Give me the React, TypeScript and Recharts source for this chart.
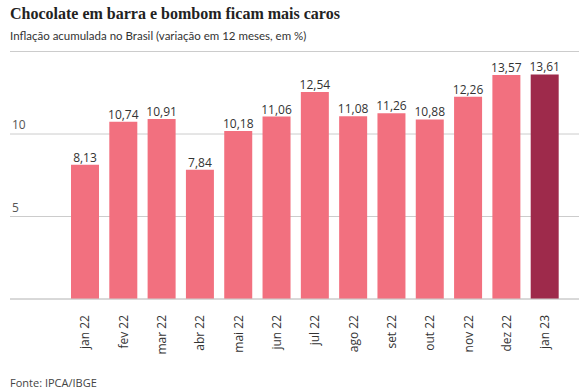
import React from 'react';
import { BarChart, Bar, XAxis, YAxis, CartesianGrid, LabelList, Cell } from 'recharts';

const months = ['jan 22', 'fev 22', 'mar 22', 'abr 22', 'mai 22', 'jun 22', 'jul 22', 'ago 22', 'set 22', 'out 22', 'nov 22', 'dez 22', 'jan 23'];
const inflation = [8.13, 10.74, 10.91, 7.84, 10.18, 11.06, 12.54, 11.08, 11.26, 10.88, 12.26, 13.57, 13.61];
const yTicks = [0, 5, 10];

const data = months.map((m, i) => ({ month: m, value: inflation[i] }));

const BAR = '#f2707f';
const HIGHLIGHT = '#9e2a4b';
const FONT = '"Open Sans", "Noto Sans", sans-serif';

const XTick = (props: any) => {
  const { x, y, payload } = props;
  return (
    <text
      x={x}
      y={y}
      transform={`rotate(-90, ${x}, ${y})`}
      dx={-8}
      dy="0.36em"
      textAnchor="end"
      fontSize={12}
      fill="#333"
      fontFamily={FONT}
    >
      {payload.value}
    </text>
  );
};

const YTick = (props: any) => {
  const { y, payload } = props;
  if (payload.value === 0) return <g />;
  return (
    <text x={12} y={y - 5} textAnchor="start" fontSize={12} fill="#555" fontFamily={FONT}>
      {payload.value}
    </text>
  );
};

export default function App() {
  return (
    <div style={{ position: 'absolute', left: 0, top: 0, width: 579, height: 391, background: '#fff', fontFamily: FONT }}>
      <div style={{ position: 'absolute', left: 10, top: 5, fontFamily: '"Liberation Serif", serif', fontWeight: 700, fontSize: 16, color: '#222' }}>
        Chocolate em barra e bombom ficam mais caros
      </div>
      <div style={{ position: 'absolute', left: 10, top: 29, fontSize: 11.5, color: '#333', fontFamily: 'Lato, sans-serif' }}>
        Inflação acumulada no Brasil (variação em 12 meses, em %)
      </div>
      <BarChart width={579} height={391} data={data} margin={{ top: 51.5, right: 0, left: 9, bottom: 32 }}>
        <CartesianGrid horizontal vertical={false} stroke="#cccccc" />
        <XAxis
          dataKey="month"
          height={60}
          interval={0}
          tickLine={false}
          axisLine={{ stroke: '#cccccc' }}
          tick={<XTick />}
          padding={{ left: 56, right: 15 }}
        />
        <YAxis width={1} domain={[0, 15]} ticks={yTicks} axisLine={false} tickLine={false} tick={<YTick />} />
        <Bar dataKey="value" barSize={28} isAnimationActive={false}>
          {data.map((d, i) => (
            <Cell key={d.month} fill={i === data.length - 1 ? HIGHLIGHT : BAR} />
          ))}
          <LabelList
            dataKey="value"
            position="top"
            offset={3}
            formatter={(v: any) => String(v.toFixed(2)).replace('.', ',')}
            style={{ fontSize: 12, fill: '#333', fontFamily: FONT }}
          />
        </Bar>
      </BarChart>
      <div style={{ position: 'absolute', left: 10, top: 375, fontSize: 11, color: '#444' }}>Fonte: IPCA/IBGE</div>
    </div>
  );
}
